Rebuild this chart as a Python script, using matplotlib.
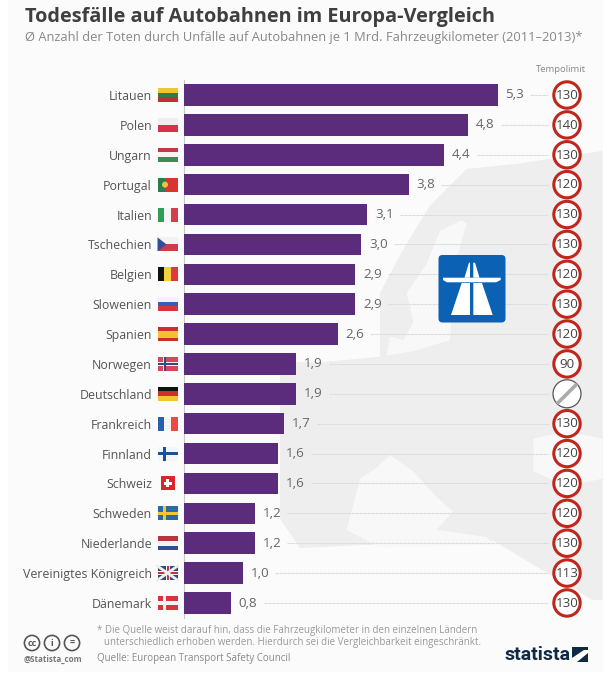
import numpy as np
import matplotlib
matplotlib.use("Agg")
import matplotlib.pyplot as plt
from matplotlib.patches import Rectangle, Circle, Polygon, FancyBboxPatch

plt.rcParams['font.family'] = ['Open Sans', 'DejaVu Sans']

countries = ["Litauen", "Polen", "Ungarn", "Portugal", "Italien", "Tschechien", "Belgien",
             "Slowenien", "Spanien", "Norwegen", "Deutschland", "Frankreich", "Finnland",
             "Schweiz", "Schweden", "Niederlande", "Vereinigtes Königreich", "Dänemark"]
deaths = [5.3, 4.8, 4.4, 3.8, 3.1, 3.0, 2.9, 2.9, 2.6, 1.9, 1.9, 1.7, 1.6, 1.6, 1.2, 1.2, 1.0, 0.8]
limits = ["130", "140", "130", "120", "130", "130", "120", "130", "120", "90", "", "130",
          "120", "120", "120", "130", "113", "130"]

# simple stripes per flag, top to bottom
h_flags = {
    "Litauen": ["#f0c52e", "#2f7d45", "#b5343a"],
    "Polen": ["#eeeeee", "#d8324a"],
    "Ungarn": ["#c23a44", "#f5f5f5", "#3f8a57"],
    "Tschechien": ["#f2f2f2", "#d03a46"],
    "Slowenien": ["#f2f2f2", "#2f62b0", "#d8343c"],
    "Spanien": ["#c9302c", "#f2c230", "#f2c230", "#c9302c"],
    "Deutschland": ["#111111", "#cf2e2e", "#f4c430"],
    "Niederlande": ["#b8343f", "#f3f3f3", "#2f4f91"],
}
v_flags = {
    "Italien": ["#2e9e57", "#f4f4f4", "#d0404a"],
    "Belgien": ["#111111", "#f5d038", "#e0383c"],
    "Frankreich": ["#2a5fb0", "#f4f4f4", "#ec4a44"],
}
# cross flags: ground, cross, inner cross
cross_flags = {
    "Norwegen": ["#d9485a", "#f0f0f0", "#2f4a86"],
    "Finnland": ["#f5f5f5", "#1f4f94", None],
    "Schweden": ["#2a6aa8", "#f2c82e", None],
    "Dänemark": ["#d8343f", "#f5f5f5", None],
}

# rough outline of the background map
land = [(0, 830), (130, 830), (300, 815), (300, 640), (370, 520), (450, 400), (560, 300),
        (720, 285), (968, 250), (968, 1500), (640, 1320), (300, 1330), (60, 1340), (0, 1260)]
seas = [
    # Bottnischer Meerbusen und Ostsee
    [(545, 440), (480, 470), (440, 560), (380, 640), (400, 720), (370, 770), (330, 760), (320, 812),
     (400, 800), (510, 770), (525, 560), (560, 450)],
    # Mittelmeer
    [(330, 1085), (400, 1130), (470, 1200), (520, 1240), (470, 1290), (620, 1310), (640, 1330), (300, 1340),
     (200, 1290), (240, 1150), (290, 1120)],
    # Schwarzes Meer
    [(760, 1040), (860, 1020), (968, 1040), (968, 1150), (860, 1170), (760, 1130)],
]

fig = plt.figure(figsize=(6.1, 6.8), dpi=100, facecolor="white")

# pixel canvas for decoration
bg = fig.add_axes([0, 0, 1, 1], zorder=0)
bg.set_xlim(0, 610)
bg.set_ylim(680, 0)
bg.axis("off")
panel = "#fbfbfb"
bg.add_patch(Rectangle((8, 0), 595, 672, color=panel, lw=0))


def map_xy(points):
    return [(280 + x / 3, 95 + (y - 97) / 2.744) for x, y in points]


bg.add_patch(Polygon(map_xy(land), color="#eeeeee", lw=0))
for sea in seas:
    bg.add_patch(Polygon(map_xy(sea), color="#f8f8f8", lw=0))
bg.add_patch(Rectangle((603, 0), 7, 680, color="white", lw=0))
bg.add_patch(Rectangle((8, 600), 595, 72, color=panel, lw=0))

# bars
ax = fig.add_axes([183.5 / 610, 1 - 618 / 680, 420 / 610, 538 / 680], zorder=1)
ax.patch.set_alpha(0)
y = np.arange(len(countries))
ax.set_xlim(0, 420 / 59.3)
ax.set_ylim(17 + (618 - 603) / 29.9, -(95 - 80) / 29.9)
ax.barh(y, deaths, height=0.72, color="#5b2c7b", zorder=3)
for s in ax.spines.values():
    s.set_visible(False)
ax.spines["left"].set_visible(True)
ax.spines["left"].set_color("#c8c8c8")
ax.set_xticks([])
ax.set_yticks(y)
ax.set_yticklabels(countries, fontsize=8.9, color="#555555")
ax.tick_params(axis="y", length=0, pad=22.7)

top = fig.add_axes([0, 0, 1, 1], zorder=2)
top.set_xlim(0, 610)
top.set_ylim(680, 0)
top.axis("off")

for i, v in enumerate(deaths):
    ax.text(v + 0.13, i, f"{v:.1f}".replace(".", ","), va="center", fontsize=9.6, color="#666666")
    ax.plot([v + 0.55, 6.15], [i, i], color="#dcdcdc", lw=0.8, ls=(0, (3, 0.6)), zorder=2)
    py = 95 + i * 29.88
    cx = 567
    if limits[i]:
        top.add_patch(Circle((cx, py), 13.2, fc="white", ec="#c0261c", lw=2.2))
        top.text(cx, py + 0.3, limits[i], ha="center", va="center", fontsize=9.6, color="#444444")
    else:
        top.add_patch(Circle((cx, py), 14, fc="white", ec="#555555", lw=0.9))
        top.plot([cx - 10, cx + 10], [py + 10, py - 10], color="#aaaaaa", lw=2.6, solid_capstyle="butt")

    # flag
    name = countries[i]
    fx, fy, fw, fh = 157.5, py - 7, 20, 14
    if name in h_flags:
        cols = h_flags[name]
        for k, c in enumerate(cols):
            top.add_patch(Rectangle((fx, fy + k * fh / len(cols)), fw, fh / len(cols), color=c, lw=0))
    elif name in v_flags:
        cols = v_flags[name]
        for k, c in enumerate(cols):
            top.add_patch(Rectangle((fx + k * fw / len(cols), fy), fw / len(cols), fh, color=c, lw=0))
    elif name in cross_flags:
        g, c1, c2 = cross_flags[name]
        top.add_patch(Rectangle((fx, fy), fw, fh, color=g, lw=0))
        top.add_patch(Rectangle((fx + 5.5, fy), 3.4, fh, color=c1, lw=0))
        top.add_patch(Rectangle((fx, fy + 5.3), fw, 3.4, color=c1, lw=0))
        if c2:
            top.add_patch(Rectangle((fx + 6.4, fy), 1.6, fh, color=c2, lw=0))
            top.add_patch(Rectangle((fx, fy + 6.2), fw, 1.6, color=c2, lw=0))
    elif name == "Portugal":
        top.add_patch(Rectangle((fx, fy), fw, fh, color="#d9342f", lw=0))
        top.add_patch(Rectangle((fx, fy), 7.5, fh, color="#2c7d4a", lw=0))
        top.add_patch(Circle((fx + 7.5, py), 3, color="#e8c24a", lw=0))
    elif name == "Schweiz":
        top.add_patch(Rectangle((fx + 3, fy), 14, fh, color="#e0242c", lw=0))
        top.add_patch(Rectangle((fx + 8.3, py - 4), 3.4, 8, color="white", lw=0))
        top.add_patch(Rectangle((fx + 6, py - 1.7), 8, 3.4, color="white", lw=0))
    elif name == "Vereinigtes Königreich":
        top.add_patch(Rectangle((fx, fy), fw, fh, color="#2f4a86", lw=0))
        top.plot([fx, fx + fw], [fy, fy + fh], color="#eeeeee", lw=2)
        top.plot([fx, fx + fw], [fy + fh, fy], color="#eeeeee", lw=2)
        top.add_patch(Rectangle((fx + 8, fy), 4, fh, color="#eeeeee", lw=0))
        top.add_patch(Rectangle((fx, fy + 5), fw, 4, color="#eeeeee", lw=0))
        top.add_patch(Rectangle((fx + 9, fy), 2, fh, color="#c8323c", lw=0))
        top.add_patch(Rectangle((fx, fy + 6), fw, 2, color="#c8323c", lw=0))
    if name == "Tschechien":
        top.add_patch(Polygon([(fx, fy), (fx + 9, py), (fx, fy + fh)], color="#2a5298", lw=0))

# titles
fig.text(25 / 610, 1 - 17 / 680, "Todesfälle auf Autobahnen im Europa-Vergleich", fontsize=14.3,
         fontweight="bold", color="#3f3f3f", va="center")
fig.text(25 / 610, 1 - 38 / 680, "Ø Anzahl der Toten durch Unfälle auf Autobahnen je 1 Mrd. Fahrzeugkilometer (2011–2013)*",
         fontsize=9.3, color="#888888", va="center")
fig.text(561 / 610, 1 - 70 / 680, "Tempolimit", fontsize=6.8, color="#888888", ha="center", va="center")

# motorway sign
top.add_patch(FancyBboxPatch((438.5, 255), 67, 67.5, boxstyle="round,pad=0,rounding_size=4", fc="#0b62b4", ec="none"))
top.add_patch(Polygon([(451, 315), (461.7, 283), (470, 283), (470, 315)], color="white", lw=0))
top.add_patch(Polygon([(473.3, 315), (473.3, 283), (482, 283), (492.7, 315)], color="white", lw=0))
top.add_patch(Polygon([(443, 277.7), (500.7, 277.7), (500.7, 280), (496, 282.3), (447, 282.3), (443, 280)], color="white", lw=0))
top.add_patch(Polygon([(464.5, 277.7), (469, 262.7), (470, 262.7), (470, 277.7)], color="white", lw=0))
top.add_patch(Polygon([(473.3, 277.7), (473.3, 262.7), (475, 262.7), (479.5, 277.7)], color="white", lw=0))

# footer
for cx, txt in zip([32, 52, 72], ["cc", "i", "="]):
    top.add_patch(Circle((cx, 643), 7.6, fc="none", ec="#555555", lw=1.2))
    top.text(cx, 643, txt, ha="center", va="center", fontsize=6.5, fontweight="bold", color="#555555")
fig.text(24 / 610, 1 - 659 / 680, "@Statista_com", fontsize=5.8, fontweight="bold", color="#777777", va="center")
fig.text(97 / 610, 1 - 630.5 / 680, "* Die Quelle weist darauf hin, dass die Fahrzeugkilometer in den einzelnen Ländern",
         fontsize=7.05, color="#999999", va="center")
fig.text(104 / 610, 1 - 642.5 / 680, "unterschiedlich erhoben werden. Hierdurch sei die Vergleichbarkeit eingeschränkt.",
         fontsize=7.05, color="#999999", va="center")
fig.text(97 / 610, 1 - 659 / 680, "Quelle: European Transport Safety Council", fontsize=7.05, color="#888888", va="center")
fig.text(504 / 610, 1 - 655 / 680, "statista", fontsize=14, fontweight="bold", color="#0f2a44", va="center",
         family=["Roboto", "DejaVu Sans"])
top.add_patch(Rectangle((572, 647), 16, 15, color="#0f2a44", lw=0))
top.add_patch(Polygon([(572, 662), (572, 658), (584, 650), (588, 650), (588, 653), (577, 662)], color="white", lw=0))

fig.savefig("out.png", dpi=100)
